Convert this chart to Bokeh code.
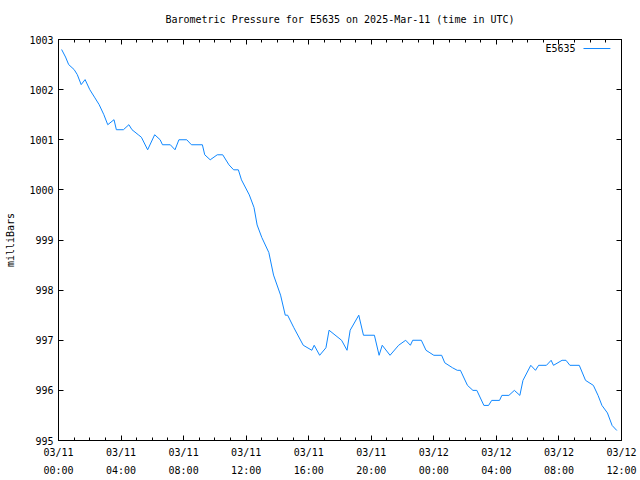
import datetime as dt
from bokeh.plotting import figure
from bokeh.models import (DatetimeAxis, LinearAxis, FixedTicker, DatetimeTickFormatter,
                          Range1d, Label, ColumnDataSource, CustomJSTickFormatter)
from bokeh.embed import file_html
from bokeh.resources import INLINE

# hours after 2025-03-11 00:00 UTC
hours = [0.2, 0.45, 0.65, 1.0, 1.2, 1.45, 1.7, 2.0, 2.3, 2.6, 2.9, 3.15, 3.55, 3.7,
         4.15, 4.5, 4.7, 5.1, 5.3, 5.7, 6.15, 6.5, 6.65, 7.15, 7.45, 7.7, 8.2, 8.5,
         9.2, 9.35, 9.7, 10.15, 10.5, 10.9, 11.2, 11.5, 11.7, 12.2, 12.5, 12.7, 13.0,
         13.45, 13.75, 14.2, 14.5, 14.65, 15.05, 15.65, 16.2, 16.35, 16.7, 17.1, 17.3,
         18.1, 18.45, 18.65, 19.2, 19.5, 20.2, 20.5, 20.7, 21.2, 21.75, 22.2, 22.5,
         22.65, 23.2, 23.5, 23.75, 24.0, 24.5, 24.7, 25.2, 25.5, 25.7, 26.15, 26.5,
         26.75, 27.2, 27.5, 27.7, 28.2, 28.35, 28.8, 29.15, 29.5, 29.7, 30.2, 30.5,
         30.7, 31.2, 31.5, 31.65, 32.2, 32.45, 32.7, 33.3, 33.7, 34.2, 34.5, 34.75,
         35.1, 35.4, 35.7]
pressure = [1002.8, 1002.65, 1002.5, 1002.4, 1002.3, 1002.1, 1002.2, 1002.0, 1001.85,
            1001.7, 1001.5, 1001.3, 1001.4, 1001.2, 1001.2, 1001.3, 1001.2, 1001.1,
            1001.05, 1000.8, 1001.1, 1001.0, 1000.9, 1000.9, 1000.8, 1001.0, 1001.0,
            1000.9, 1000.9, 1000.7, 1000.6, 1000.7, 1000.7, 1000.5, 1000.4, 1000.4,
            1000.2, 999.9, 999.65, 999.3, 999.05, 998.75, 998.3, 997.9, 997.5, 997.5,
            997.25, 996.9, 996.8, 996.9, 996.7, 996.85, 997.2, 997.0, 996.8, 997.2,
            997.5, 997.1, 997.1, 996.7, 996.9, 996.7, 996.9, 997.0, 996.9, 997.0,
            997.0, 996.8, 996.75, 996.7, 996.7, 996.55, 996.45, 996.4, 996.4, 996.1,
            996.0, 996.0, 995.7, 995.7, 995.8, 995.8, 995.9, 995.9, 996.0, 995.9,
            996.2, 996.5, 996.4, 996.5, 996.5, 996.6, 996.5, 996.6, 996.6, 996.5,
            996.5, 996.2, 996.1, 995.9, 995.7, 995.55, 995.3, 995.2]
station = "E5635"
title_text = "Barometric Pressure for E5635 on 2025-Mar-11 (time in UTC)"
y_label = "milliBars"
y_ticks = [995, 996, 997, 998, 999, 1000, 1001, 1002, 1003]

start = dt.datetime(2025, 3, 11, 0, 0)
end = dt.datetime(2025, 3, 12, 12, 0)
times = [start + dt.timedelta(hours=h) for h in hours]

def ms(d):
    return (d - dt.datetime(1970, 1, 1)).total_seconds() * 1000.0

major = [ms(start + dt.timedelta(hours=4 * i)) for i in range(10)]
minor = [ms(start + dt.timedelta(hours=i)) for i in range(37)]

FONT = "DejaVu Sans Mono"
COLOR = "#0f87ff"

p = figure(width=640, height=480, output_backend="svg", toolbar_location=None,
           x_axis_type=None, y_axis_type=None,
           x_range=Range1d(start, end), y_range=Range1d(995, 1003),
           min_border_left=58, min_border_right=19, min_border_top=39, min_border_bottom=40)
p.title.text = title_text
p.title.align = "center"
p.title.vertical_align = "top"
p.title.text_font = FONT
p.title.text_font_size = "10px"
p.title.text_font_style = "normal"
p.title.text_color = "black"
p.title.text_line_height = 1.0
p.title.standoff = 25
p.outline_line_color = "black"
p.outline_line_width = 1
p.outline_line_alpha = 1
p.xgrid.visible = False
p.ygrid.visible = False
p.background_fill_color = "white"
p.border_fill_color = "white"

fmt = DatetimeTickFormatter(
    microseconds="%m/%d\n%H:%M", milliseconds="%m/%d\n%H:%M", seconds="%m/%d\n%H:%M",
    minsec="%m/%d\n%H:%M", minutes="%m/%d\n%H:%M", hourmin="%m/%d\n%H:%M",
    hours="%m/%d\n%H:%M", days="%m/%d\n%H:%M", months="%m/%d\n%H:%M", years="%m/%d\n%H:%M")

def style(ax, labels=True):
    ax.axis_line_color = "black"
    ax.major_tick_in = 5
    ax.major_tick_out = 0
    ax.minor_tick_in = 3
    ax.minor_tick_out = 0
    ax.major_tick_line_color = "black"
    ax.minor_tick_line_color = "black"
    ax.major_label_text_font = FONT
    ax.major_label_text_font_size = "10px"
    ax.major_label_text_color = "black"
    if not labels:
        ax.major_label_standoff = 0

xb = DatetimeAxis(ticker=FixedTicker(ticks=major, minor_ticks=minor), formatter=fmt)
style(xb)
xb.major_label_standoff = 6
xb.major_label_text_line_height = 1.7
p.add_layout(xb, "below")

blank = CustomJSTickFormatter(code="return '';")

xt = LinearAxis(ticker=FixedTicker(ticks=major, minor_ticks=minor), formatter=blank)
style(xt, labels=False)
p.add_layout(xt, "above")

yl = LinearAxis(ticker=FixedTicker(ticks=y_ticks, minor_ticks=[]))
style(yl)
yl.major_label_standoff = 5
yl.axis_label = y_label
yl.axis_label_text_font = FONT
yl.axis_label_text_font_size = "10px"
yl.axis_label_text_font_style = "normal"
yl.axis_label_text_color = "black"
yl.axis_label_standoff = 10
p.add_layout(yl, "left")

yr = LinearAxis(ticker=FixedTicker(ticks=y_ticks, minor_ticks=[]), formatter=blank)
style(yr, labels=False)
p.add_layout(yr, "right")

src = ColumnDataSource(dict(t=times, p=pressure))
p.line("t", "p", source=src, line_color=COLOR, line_width=1)

# key (label to the left of the line sample, as in the reference)
key_y = 1002.82
p.line([start + dt.timedelta(hours=33.57), start + dt.timedelta(hours=35.29)],
       [key_y, key_y], line_color=COLOR, line_width=1)
p.add_layout(Label(x=start + dt.timedelta(hours=33.06), y=key_y, text=station,
                   text_align="right", text_baseline="middle", text_font=FONT,
                   text_font_size="10px", text_color="black"))

open("out.html", "w").write(file_html(p, INLINE))
